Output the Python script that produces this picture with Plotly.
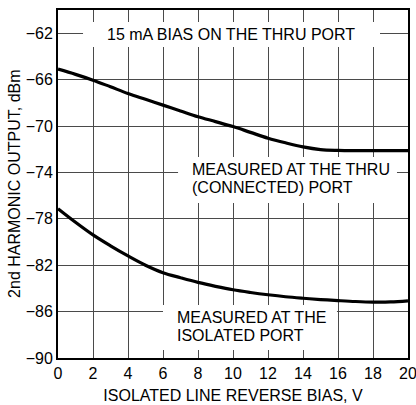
import plotly.graph_objects as go

bias_v = list(range(0, 21))
thru_dbm = [-65.1, -65.55, -66.05, -66.62, -67.2, -67.7, -68.2, -68.7, -69.2, -69.62, -70.05,
            -70.55, -71.05, -71.45, -71.8, -72.03, -72.1, -72.12, -72.12, -72.12, -72.12]
isolated_dbm = [-77.13, -78.3, -79.39, -80.33, -81.2, -82.0, -82.65, -83.08, -83.48, -83.82, -84.12,
                -84.35, -84.55, -84.72, -84.85, -84.96, -85.05, -85.13, -85.18, -85.17, -85.08]
x_ticks = [0, 2, 4, 6, 8, 10, 12, 14, 16, 18, 20]
y_ticks = [-90, -86, -82, -78, -74, -70, -66, -62]
y_title = "2nd HARMONIC OUTPUT, dBm"
x_title = "ISOLATED LINE REVERSE BIAS, V"

FONT = "Liberation Sans, Arial, sans-serif"
GRID = "#4a4a4a"

fig = go.Figure()
for ys in (thru_dbm, isolated_dbm):
    fig.add_trace(go.Scatter(x=bias_v, y=ys, mode="lines",
                             line=dict(color="black", width=3.2, shape="spline", smoothing=1.0),
                             showlegend=False, hoverinfo="skip"))

axis_common = dict(ticks="", showgrid=True, gridcolor=GRID, gridwidth=1, showline=True,
                   linecolor="black", linewidth=2, mirror=True, zeroline=False, automargin=False,
                   ticklabeloverflow="allow",
                   tickfont=dict(size=16, family=FONT, color="black"))

# white label boxes that break the grid lines
boxes = [
    (1.43, 18.4, -61.03, -63.19),
    (6.86, 19.37, -72.67, -76.64),
    (6.0, 15.94, -85.43, -89.31),
]
shapes = [dict(type="rect", xref="x", yref="y", x0=a, x1=b, y0=c, y1=d,
               fillcolor="white", line=dict(width=0), layer="above") for a, b, c, d in boxes]

labels = [
    (9.89, -62.11, "15 mA BIAS ON THE THRU PORT", "center"),
    (7.54, -73.79, "MEASURED AT THE THRU", "left"),
    (7.54, -75.34, "(CONNECTED) PORT", "left"),
    (6.69, -86.47, "MEASURED AT THE", "left"),
    (6.69, -88.10, "ISOLATED PORT", "left"),
]
annotations = [dict(x=x, y=y, xref="x", yref="y", text=t, showarrow=False, xanchor=a, yanchor="middle",
                    font=dict(size=16, family=FONT, color="black")) for x, y, t, a in labels]
annotations.append(dict(x=-0.126, y=0.5, xref="paper", yref="paper", text=y_title, textangle=-90,
                        showarrow=False, xanchor="center", yanchor="middle",
                        font=dict(size=16, family=FONT, color="black")))

fig.update_layout(
    width=416, height=405,
    margin=dict(l=58, r=8, t=10, b=47),
    paper_bgcolor="white", plot_bgcolor="white",
    font=dict(family=FONT, size=16, color="black"),
    xaxis=dict(range=[0, 20], tickvals=x_ticks,
               title=dict(text=x_title, font=dict(size=16), standoff=9),
               **axis_common),
    yaxis=dict(range=[-90, -60], tickvals=y_ticks, **axis_common),
    shapes=shapes,
    annotations=annotations,
)

fig.write_html("out.html")
